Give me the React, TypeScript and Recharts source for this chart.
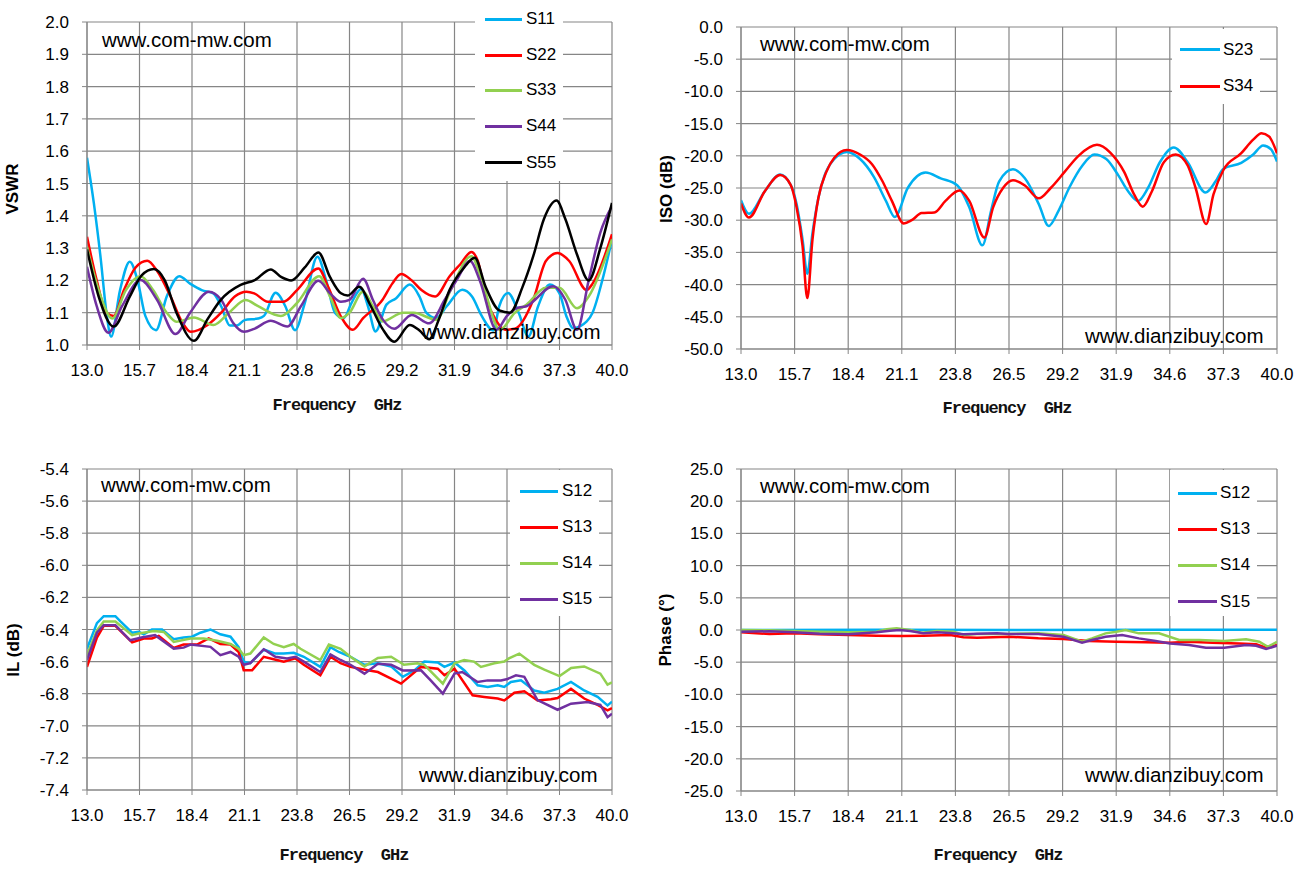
import React from "react";
import { LineChart, Line, XAxis, YAxis, CartesianGrid } from "recharts";

// shared x axis (GHz)
const FREQ_TICKS = [13.0, 15.7, 18.4, 21.1, 23.8, 26.5, 29.2, 31.9, 34.6, 37.3, 40.0];

const VSWR_TICKS = [1.0, 1.1, 1.2, 1.3, 1.4, 1.5, 1.6, 1.7, 1.8, 1.9, 2.0];
const ISO_TICKS = [-50, -45, -40, -35, -30, -25, -20, -15, -10, -5, 0];
const IL_TICKS = [-7.4, -7.2, -7.0, -6.8, -6.6, -6.4, -6.2, -6.0, -5.8, -5.6, -5.4];
const PHASE_TICKS = [-25, -20, -15, -10, -5, 0, 5, 10, 15, 20, 25];

// [freq GHz, value]
const VSWR_S11 = [
  [13.0, 1.58], [13.35, 1.44], [13.7, 1.27], [14.0, 1.1], [14.24, 1.026], [14.7, 1.17], [15.2, 1.258],
  [15.6, 1.2], [16.0, 1.09], [16.55, 1.046], [17.1, 1.15], [17.75, 1.213], [18.3, 1.19], [18.9, 1.17],
  [19.5, 1.16], [19.9, 1.12], [20.35, 1.06], [20.7, 1.06], [21.1, 1.077], [21.8, 1.082], [22.1, 1.09],
  [22.7, 1.162], [23.2, 1.12], [23.7, 1.046], [24.2, 1.13], [24.85, 1.273], [25.3, 1.2], [25.75, 1.1],
  [26.2, 1.083], [26.6, 1.13], [27.1, 1.173], [27.45, 1.12], [27.84, 1.042], [28.4, 1.125], [28.9, 1.145],
  [29.6, 1.187], [30.1, 1.15], [30.45, 1.1], [30.95, 1.083], [31.5, 1.12], [32.3, 1.171], [32.8, 1.15],
  [33.3, 1.09], [33.9, 1.045], [34.2, 1.12], [34.65, 1.161], [35.2, 1.1], [35.7, 1.026], [36.2, 1.12],
  [36.8, 1.187], [37.3, 1.16], [37.65, 1.09], [38.0, 1.052], [38.7, 1.073], [39.0, 1.1], [39.5, 1.2],
  [40.0, 1.327],
];
const VSWR_S22 = [
  [13.0, 1.335], [13.5, 1.2], [14.0, 1.1], [14.37, 1.09], [14.9, 1.17], [15.5, 1.24], [16.1, 1.261],
  [16.6, 1.23], [17.3, 1.15], [17.9, 1.07], [18.33, 1.041], [19.2, 1.062], [19.9, 1.1], [20.6, 1.15],
  [21.2, 1.165], [21.6, 1.16], [22.3, 1.134], [23.1, 1.134], [23.8, 1.17], [24.9, 1.237], [25.4, 1.18],
  [26.06, 1.088], [26.67, 1.047], [27.2, 1.083], [28.2, 1.14], [28.7, 1.19], [29.16, 1.22], [29.7, 1.2],
  [30.2, 1.17], [30.9, 1.15], [31.65, 1.213], [32.2, 1.25], [32.77, 1.288], [33.1, 1.26], [33.55, 1.14],
  [34.0, 1.08], [34.5, 1.047], [35.0, 1.05], [35.95, 1.14], [36.6, 1.26], [37.2, 1.285], [37.8, 1.26],
  [38.7, 1.17], [39.0, 1.19], [40.0, 1.343],
];
const VSWR_S33 = [
  [13.0, 1.304], [13.6, 1.17], [14.3, 1.082], [15.0, 1.17], [15.75, 1.213], [16.4, 1.17], [17.1, 1.1],
  [17.6, 1.072], [18.5, 1.085], [19.5, 1.062], [20.3, 1.1], [21.16, 1.139], [21.8, 1.12], [22.97, 1.09],
  [23.8, 1.13], [24.94, 1.213], [25.5, 1.15], [26.06, 1.083], [26.5, 1.1], [27.2, 1.166], [27.7, 1.12],
  [28.2, 1.073], [29.25, 1.1], [29.8, 1.1], [30.97, 1.078], [31.7, 1.17], [32.77, 1.275], [33.3, 1.2],
  [34.24, 1.047], [35.0, 1.1], [35.6, 1.125], [36.6, 1.177], [37.3, 1.177], [38.2, 1.114], [38.8, 1.15],
  [40.0, 1.327],
];
const VSWR_S44 = [
  [13.0, 1.242], [13.5, 1.12], [14.1, 1.038], [14.8, 1.12], [15.75, 1.201], [16.6, 1.14], [17.55, 1.034],
  [18.3, 1.1], [19.27, 1.165], [19.9, 1.14], [20.5, 1.07], [21.08, 1.041], [21.6, 1.05], [22.45, 1.075],
  [23.3, 1.057], [24.0, 1.12], [24.9, 1.199], [25.5, 1.16], [26.06, 1.134], [26.5, 1.14], [27.2, 1.205],
  [27.7, 1.14], [28.2, 1.08], [28.8, 1.05], [29.7, 1.093], [30.6, 1.067], [31.4, 1.14], [32.0, 1.2],
  [32.7, 1.26], [33.2, 1.2], [34.06, 1.047], [34.6, 1.09], [35.1, 1.114], [35.6, 1.12], [36.98, 1.182],
  [37.6, 1.14], [38.2, 1.047], [38.8, 1.2], [39.4, 1.348], [40.0, 1.43],
];
const VSWR_S55 = [
  [13.0, 1.296], [13.6, 1.15], [14.37, 1.057], [15.2, 1.15], [15.8, 1.215], [16.44, 1.235], [17.0, 1.2],
  [17.6, 1.1], [18.5, 1.013], [19.2, 1.08], [19.87, 1.139], [20.9, 1.186], [21.6, 1.2], [22.45, 1.234],
  [23.0, 1.21], [23.5, 1.2], [24.2, 1.24], [24.9, 1.286], [25.5, 1.21], [26.06, 1.16], [26.4, 1.153],
  [27.0, 1.18], [27.6, 1.12], [28.2, 1.05], [28.8, 1.01], [29.6, 1.062], [30.1, 1.045], [30.6, 1.018],
  [31.1, 1.08], [31.65, 1.171], [32.4, 1.24], [32.94, 1.27], [33.5, 1.18], [34.2, 1.107], [34.75, 1.1],
  [35.4, 1.18], [35.95, 1.275], [36.5, 1.39], [37.15, 1.447], [37.6, 1.39], [38.2, 1.28], [38.8, 1.2],
  [39.4, 1.3], [40.0, 1.44],
];

const ISO_S23 = [
  [13.0, -26.9], [13.4, -29.0], [14.2, -25.5], [14.97, -22.9], [15.5, -24.5], [15.8, -27.5], [16.1, -33],
  [16.34, -38.3], [16.6, -32], [16.9, -26.5], [17.18, -23.3], [17.7, -20.5], [18.33, -19.4], [19.0, -20.5],
  [19.7, -23.3], [20.3, -27.0], [20.75, -29.5], [21.4, -25.0], [22.3, -22.6], [23.06, -23.5], [23.9, -24.6],
  [24.5, -28.0], [25.16, -33.9], [25.6, -28.5], [26.0, -24.0], [26.7, -22.1], [27.3, -23.5], [28.0, -27.5],
  [28.5, -30.9], [29.0, -28.5], [29.56, -24.8], [30.2, -21.5], [30.8, -19.8], [31.4, -20.5], [32.0, -23.0],
  [32.5, -25.5], [33.0, -27.0], [33.5, -25.0], [34.1, -21.0], [34.8, -18.7], [35.5, -21.0], [36.4, -25.7],
  [36.9, -24.0], [37.3, -22.0], [38.2, -21.1], [38.8, -19.8], [39.3, -18.4], [39.7, -19.0], [40.0, -20.9],
];
const ISO_S34 = [
  [13.0, -27.4], [13.4, -29.6], [14.2, -25.5], [14.97, -23.0], [15.5, -24.5], [15.8, -28], [16.1, -34],
  [16.34, -42.1], [16.6, -33], [16.9, -26.5], [17.3, -22.5], [17.7, -20.3], [18.33, -19.1], [19.0, -19.8],
  [19.6, -21.3], [20.1, -23.8], [20.6, -27.0], [21.2, -30.5], [21.6, -30.0], [22.1, -28.9], [22.74, -28.8],
  [23.3, -27.0], [24.0, -25.4], [24.5, -27.0], [25.26, -32.7], [25.7, -28.0], [26.2, -25.0], [26.7, -23.8],
  [27.3, -24.6], [28.0, -26.6], [28.6, -25.0], [29.3, -22.5], [30.0, -20.0], [30.93, -18.3], [31.6, -19.5],
  [32.3, -22.5], [32.8, -26.0], [33.24, -27.9], [33.7, -25.5], [34.3, -21.0], [34.9, -19.8], [35.5, -21.5],
  [35.9, -25.0], [36.43, -30.6], [36.8, -26.0], [37.3, -22.2], [38.2, -19.6], [38.8, -17.5], [39.22, -16.5],
  [39.6, -17.0], [40.0, -19.6],
];

const IL_S12 = [
  [13.0, -6.52], [13.51, -6.36], [13.86, -6.317], [14.46, -6.317], [14.72, -6.35], [15.32, -6.42],
  [15.66, -6.415], [15.92, -6.43], [16.34, -6.4], [16.86, -6.4], [17.46, -6.46], [17.97, -6.45],
  [18.4, -6.445], [18.83, -6.42], [19.35, -6.4], [19.86, -6.43], [20.38, -6.445], [20.8, -6.51],
  [21.06, -6.6], [21.4, -6.61], [22.09, -6.525], [22.69, -6.55], [23.12, -6.55], [23.63, -6.545],
  [24.15, -6.57], [25.0, -6.633], [25.52, -6.51], [25.95, -6.54], [26.55, -6.57], [27.27, -6.62],
  [27.96, -6.61], [28.64, -6.63], [29.24, -6.695], [29.84, -6.655], [30.35, -6.6], [31.04, -6.605],
  [31.38, -6.633], [31.9, -6.606], [32.41, -6.655], [33.09, -6.748], [33.61, -6.758], [34.12, -6.748],
  [34.46, -6.758], [34.8, -6.727], [35.32, -6.717], [36.0, -6.78], [36.52, -6.794], [37.2, -6.77],
  [37.89, -6.727], [38.57, -6.78], [39.26, -6.82], [39.77, -6.873], [40.0, -6.85],
];
const IL_S13 = [
  [13.0, -6.633], [13.51, -6.45], [13.86, -6.377], [14.46, -6.377], [15.32, -6.48], [15.92, -6.456],
  [16.34, -6.456], [16.69, -6.44], [17.46, -6.515], [17.97, -6.494], [18.66, -6.494], [19.26, -6.456],
  [19.86, -6.49], [20.38, -6.494], [20.8, -6.54], [21.06, -6.654], [21.49, -6.654], [22.09, -6.57],
  [22.6, -6.585], [23.12, -6.6], [23.72, -6.58], [24.15, -6.62], [25.0, -6.685], [25.52, -6.57],
  [26.04, -6.61], [26.55, -6.633], [27.44, -6.654], [27.96, -6.665], [29.15, -6.737], [30.18, -6.633],
  [31.04, -6.644], [31.38, -6.685], [31.9, -6.644], [32.83, -6.81], [33.43, -6.82], [34.12, -6.83],
  [34.46, -6.842], [34.98, -6.794], [35.49, -6.785], [36.17, -6.842], [36.86, -6.835], [37.2, -6.827],
  [37.89, -6.77], [38.57, -6.83], [39.26, -6.87], [39.77, -6.904], [40.0, -6.89],
];
const IL_S14 = [
  [13.0, -6.56], [13.51, -6.405], [13.86, -6.35], [14.46, -6.35], [15.32, -6.435], [15.66, -6.425],
  [16.43, -6.41], [16.95, -6.415], [17.46, -6.477], [18.32, -6.456], [19.0, -6.456], [19.69, -6.47],
  [20.38, -6.49], [20.8, -6.52], [21.06, -6.56], [21.4, -6.55], [22.09, -6.45], [22.6, -6.49],
  [23.12, -6.51], [23.63, -6.49], [23.98, -6.52], [25.0, -6.59], [25.44, -6.494], [26.04, -6.52],
  [26.55, -6.57], [27.27, -6.63], [27.96, -6.577], [28.64, -6.57], [29.3, -6.62], [30.0, -6.61],
  [30.35, -6.62], [31.3, -6.737], [31.9, -6.61], [32.4, -6.59], [32.9, -6.6], [33.26, -6.633],
  [33.95, -6.61], [34.46, -6.6], [34.7, -6.58], [35.23, -6.55], [36.0, -6.62], [36.52, -6.65],
  [37.3, -6.69], [37.9, -6.64], [38.57, -6.63], [39.4, -6.675], [39.77, -6.744], [40.0, -6.73],
];
const IL_S15 = [
  [13.0, -6.59], [13.51, -6.42], [13.86, -6.373], [14.46, -6.373], [15.22, -6.467], [15.8, -6.45],
  [16.5, -6.435], [17.46, -6.519], [17.97, -6.513], [18.32, -6.494], [19.35, -6.508], [19.86, -6.56],
  [20.38, -6.54], [20.8, -6.57], [21.06, -6.62], [21.4, -6.61], [22.09, -6.523], [22.69, -6.57],
  [23.29, -6.58], [23.72, -6.57], [24.15, -6.6], [25.0, -6.665], [25.52, -6.556], [26.04, -6.59],
  [26.55, -6.62], [27.27, -6.675], [27.96, -6.613], [28.64, -6.62], [29.24, -6.655], [30.18, -6.654],
  [30.7, -6.72], [31.3, -6.8], [31.9, -6.675], [32.3, -6.665], [33.09, -6.727], [33.61, -6.717],
  [34.29, -6.717], [34.63, -6.708], [35.06, -6.685], [35.49, -6.695], [36.17, -6.84], [37.2, -6.9],
  [37.89, -6.862], [38.74, -6.852], [39.4, -6.87], [39.77, -6.946], [40.0, -6.925],
];

const PH_S12 = [[13.0, 0.0], [20.0, 0.05], [27.0, 0.0], [34.0, 0.05], [40.0, 0.05]];
const PH_S13 = [
  [13.0, -0.36], [14.43, -0.62], [15.7, -0.52], [16.96, -0.67], [18.4, -0.78], [19.83, -0.88],
  [21.1, -0.93], [22.19, -0.88], [23.54, -0.78], [24.21, -1.14], [24.89, -1.2], [26.49, -1.04],
  [27.98, -1.3], [29.25, -1.4], [30.51, -1.7], [31.91, -1.82], [33.38, -1.92], [34.61, -1.97],
  [35.57, -1.82], [36.75, -1.97], [38.1, -2.08], [38.95, -2.23], [39.45, -2.75], [40.0, -2.34],
];
const PH_S14 = [
  [13.0, 0.0], [14.43, -0.05], [16.96, -0.26], [18.4, -0.36], [19.83, -0.26], [20.34, 0.1],
  [20.84, 0.26], [21.52, 0.0], [22.1, -0.42], [22.87, -0.16], [23.71, -0.26], [24.21, -0.78],
  [24.89, -0.62], [26.49, -0.62], [27.98, -0.52], [29.25, -0.78], [30.18, -1.82], [30.68, -1.3],
  [31.36, -0.52], [31.91, -0.26], [32.37, 0.0], [33.04, -0.52], [34.06, -0.52], [35.07, -1.56],
  [36.08, -1.56], [37.34, -1.71], [38.44, -1.45], [39.11, -1.82], [39.54, -2.6], [40.0, -1.82],
];
const PH_S15 = [
  [13.0, -0.26], [14.43, -0.2], [15.7, -0.36], [16.96, -0.57], [18.4, -0.67], [19.83, -0.36],
  [20.5, -0.1], [21.0, 0.0], [21.52, -0.16], [22.19, -0.52], [22.87, -0.36], [23.54, -0.47],
  [24.21, -0.67], [24.89, -0.57], [25.9, -0.52], [26.49, -0.62], [27.98, -0.62], [29.25, -1.04],
  [30.18, -1.97], [30.68, -1.56], [31.36, -1.04], [32.2, -0.78], [33.04, -1.3], [33.89, -1.71],
  [34.61, -2.08], [35.57, -2.34], [36.42, -2.75], [37.34, -2.75], [38.44, -2.34], [38.95, -2.45],
  [39.45, -2.96], [40.0, -2.45],
];

const CYAN = "#00b0f0";
const RED = "#ff0000";
const GREEN = "#92d050";
const PURPLE = "#7030a0";
const BLACK = "#000000";
const GRID = "#868686";
const SANS = "'Liberation Sans', Arial, sans-serif";

const rows = (pts: number[][]) => pts.map(([f, v]) => ({ f, v }));

type Series = { name: string; color: string; pts: number[][] };
type Box = { left: number; top: number; right: number; bottom: number };

function Panel(props: {
  frame: { left: number; top: number; w: number; h: number };
  plot: Box;
  yTicks: number[];
  series: Series[];
  curve: "monotone" | "linear";
  yTitle: string;
  yTitlePos: [number, number];
  xTitlePos: [number, number];
  legend: { box: Box; rows: number[]; lineX: [number, number]; textX: number };
  marks: { top: [number, number]; bottom: [number, number] };
}) {
  const { frame, plot, yTicks, series, curve, legend, marks } = props;
  const xAxisH = 40;
  const margin = {
    top: plot.top - frame.top,
    right: frame.left + frame.w - plot.right,
    bottom: frame.h - (plot.bottom - frame.top) - xAxisH,
    left: 0,
  };
  const tickFont = { fill: "#000", fontSize: 17, fontFamily: SANS };
  return (
    <>
      <div style={{ position: "absolute", left: frame.left, top: frame.top }}>
        <LineChart width={frame.w} height={frame.h} margin={margin}>
          <CartesianGrid stroke={GRID} strokeWidth={1.2} />
          <XAxis
            type="number"
            dataKey="f"
            domain={[13, 40]}
            ticks={FREQ_TICKS}
            interval={0}
            allowDataOverflow
            height={xAxisH}
            tickSize={5}
            tickMargin={14}
            stroke={GRID}
            tick={tickFont}
            tickFormatter={(t: number) => t.toFixed(1)}
          />
          <YAxis
            type="number"
            domain={[yTicks[0], yTicks[yTicks.length - 1]]}
            ticks={yTicks}
            interval={0}
            allowDataOverflow
            width={plot.left - frame.left}
            tickSize={5}
            tickMargin={13}
            stroke={GRID}
            tick={tickFont}
            tickFormatter={(t: number) => t.toFixed(1)}
          />
          {series.map((s) => (
            <Line
              key={s.name}
              data={rows(s.pts)}
              dataKey="v"
              type={curve}
              stroke={s.color}
              strokeWidth={2.5}
              dot={false}
              activeDot={false}
              isAnimationActive={false}
            />
          ))}
        </LineChart>
      </div>

      {/* legend box sits over the grid */}
      <div
        style={{
          position: "absolute",
          left: legend.box.left,
          top: legend.box.top,
          width: legend.box.right - legend.box.left,
          height: legend.box.bottom - legend.box.top,
          background: "#fff",
        }}
      />
      {series.map((s, i) => (
        <React.Fragment key={s.name}>
          <div
            style={{
              position: "absolute",
              left: legend.lineX[0],
              top: legend.rows[i] - 1.5,
              width: legend.lineX[1] - legend.lineX[0],
              height: 3,
              background: s.color,
            }}
          />
          <div
            style={{
              position: "absolute",
              left: legend.textX,
              top: legend.rows[i] - 10,
              fontFamily: SANS,
              fontSize: 17,
              lineHeight: "20px",
              color: "#000",
            }}
          >
            {s.name}
          </div>
        </React.Fragment>
      ))}

      <div style={{ ...markStyle, left: marks.top[0], top: marks.top[1] - 12 }}>www.com-mw.com</div>
      <div style={{ ...markStyle, left: marks.bottom[0], top: marks.bottom[1] - 12 }}>www.dianzibuy.com</div>

      <div
        style={{
          position: "absolute",
          left: props.yTitlePos[0],
          top: props.yTitlePos[1],
          transform: "translate(-50%, -50%) rotate(-90deg)",
          fontFamily: SANS,
          fontWeight: "bold",
          fontSize: 17,
          whiteSpace: "nowrap",
          color: "#000",
        }}
      >
        {props.yTitle}
      </div>
      <div
        style={{
          position: "absolute",
          left: props.xTitlePos[0],
          top: props.xTitlePos[1],
          transform: "translate(-50%, -50%)",
          fontFamily: "'Liberation Mono', 'DejaVu Sans Mono', monospace",
          fontWeight: "bold",
          fontSize: 17,
          letterSpacing: -1,
          whiteSpace: "pre",
          color: "#111",
        }}
      >
        {"Frequency  GHz"}
      </div>
    </>
  );
}

const markStyle: React.CSSProperties = {
  position: "absolute",
  fontFamily: SANS,
  fontSize: 20.5,
  lineHeight: "24px",
  color: "#000",
  whiteSpace: "nowrap",
};

export default function App() {
  return (
    <div
      style={{
        position: "absolute",
        left: 0,
        top: 0,
        width: 1303,
        height: 874,
        background: "#fff",
        overflow: "hidden",
      }}
    >
      <Panel
        frame={{ left: 0, top: 0, w: 650, h: 437 }}
        plot={{ left: 87, top: 22, right: 612, bottom: 345 }}
        yTicks={VSWR_TICKS}
        curve="monotone"
        series={[
          { name: "S11", color: CYAN, pts: VSWR_S11 },
          { name: "S22", color: RED, pts: VSWR_S22 },
          { name: "S33", color: GREEN, pts: VSWR_S33 },
          { name: "S44", color: PURPLE, pts: VSWR_S44 },
          { name: "S55", color: BLACK, pts: VSWR_S55 },
        ]}
        yTitle="VSWR"
        yTitlePos={[13, 189]}
        xTitlePos={[337, 405]}
        legend={{ box: { left: 475, top: 3, right: 563, bottom: 181 }, rows: [19, 55, 90, 126, 162.5], lineX: [485, 522], textX: 526 }}
        marks={{ top: [102, 40], bottom: [422, 331.5] }}
      />
      <Panel
        frame={{ left: 650, top: 0, w: 653, h: 437 }}
        plot={{ left: 741, top: 27, right: 1277, bottom: 349 }}
        yTicks={ISO_TICKS}
        curve="monotone"
        series={[
          { name: "S23", color: CYAN, pts: ISO_S23 },
          { name: "S34", color: RED, pts: ISO_S34 },
        ]}
        yTitle="ISO (dB)"
        yTitlePos={[667, 189]}
        xTitlePos={[1007, 408]}
        legend={{ box: { left: 1172, top: 29, right: 1260, bottom: 104 }, rows: [49.5, 86], lineX: [1180, 1220], textX: 1223 }}
        marks={{ top: [760, 43.5], bottom: [1085, 336] }}
      />
      <Panel
        frame={{ left: 0, top: 437, w: 650, h: 437 }}
        plot={{ left: 87, top: 469, right: 612, bottom: 790 }}
        yTicks={IL_TICKS}
        curve="linear"
        series={[
          { name: "S12", color: CYAN, pts: IL_S12 },
          { name: "S13", color: RED, pts: IL_S13 },
          { name: "S14", color: GREEN, pts: IL_S14 },
          { name: "S15", color: PURPLE, pts: IL_S15 },
        ]}
        yTitle="IL (dB)"
        yTitlePos={[14, 650]}
        xTitlePos={[344, 855]}
        legend={{ box: { left: 510, top: 470, right: 599, bottom: 616 }, rows: [491, 527, 563, 599], lineX: [520, 558], textX: 562 }}
        marks={{ top: [101, 485], bottom: [419, 775] }}
      />
      <Panel
        frame={{ left: 650, top: 437, w: 653, h: 437 }}
        plot={{ left: 741, top: 469, right: 1277, bottom: 791 }}
        yTicks={PHASE_TICKS}
        curve="linear"
        series={[
          { name: "S12", color: CYAN, pts: PH_S12 },
          { name: "S13", color: RED, pts: PH_S13 },
          { name: "S14", color: GREEN, pts: PH_S14 },
          { name: "S15", color: PURPLE, pts: PH_S15 },
        ]}
        yTitle="Phase (°)"
        yTitlePos={[666, 630]}
        xTitlePos={[998, 855]}
        legend={{ box: { left: 1170, top: 470, right: 1257, bottom: 616 }, rows: [493, 529, 565, 601.5], lineX: [1178, 1217], textX: 1220 }}
        marks={{ top: [760, 486], bottom: [1085, 775] }}
      />
    </div>
  );
}
